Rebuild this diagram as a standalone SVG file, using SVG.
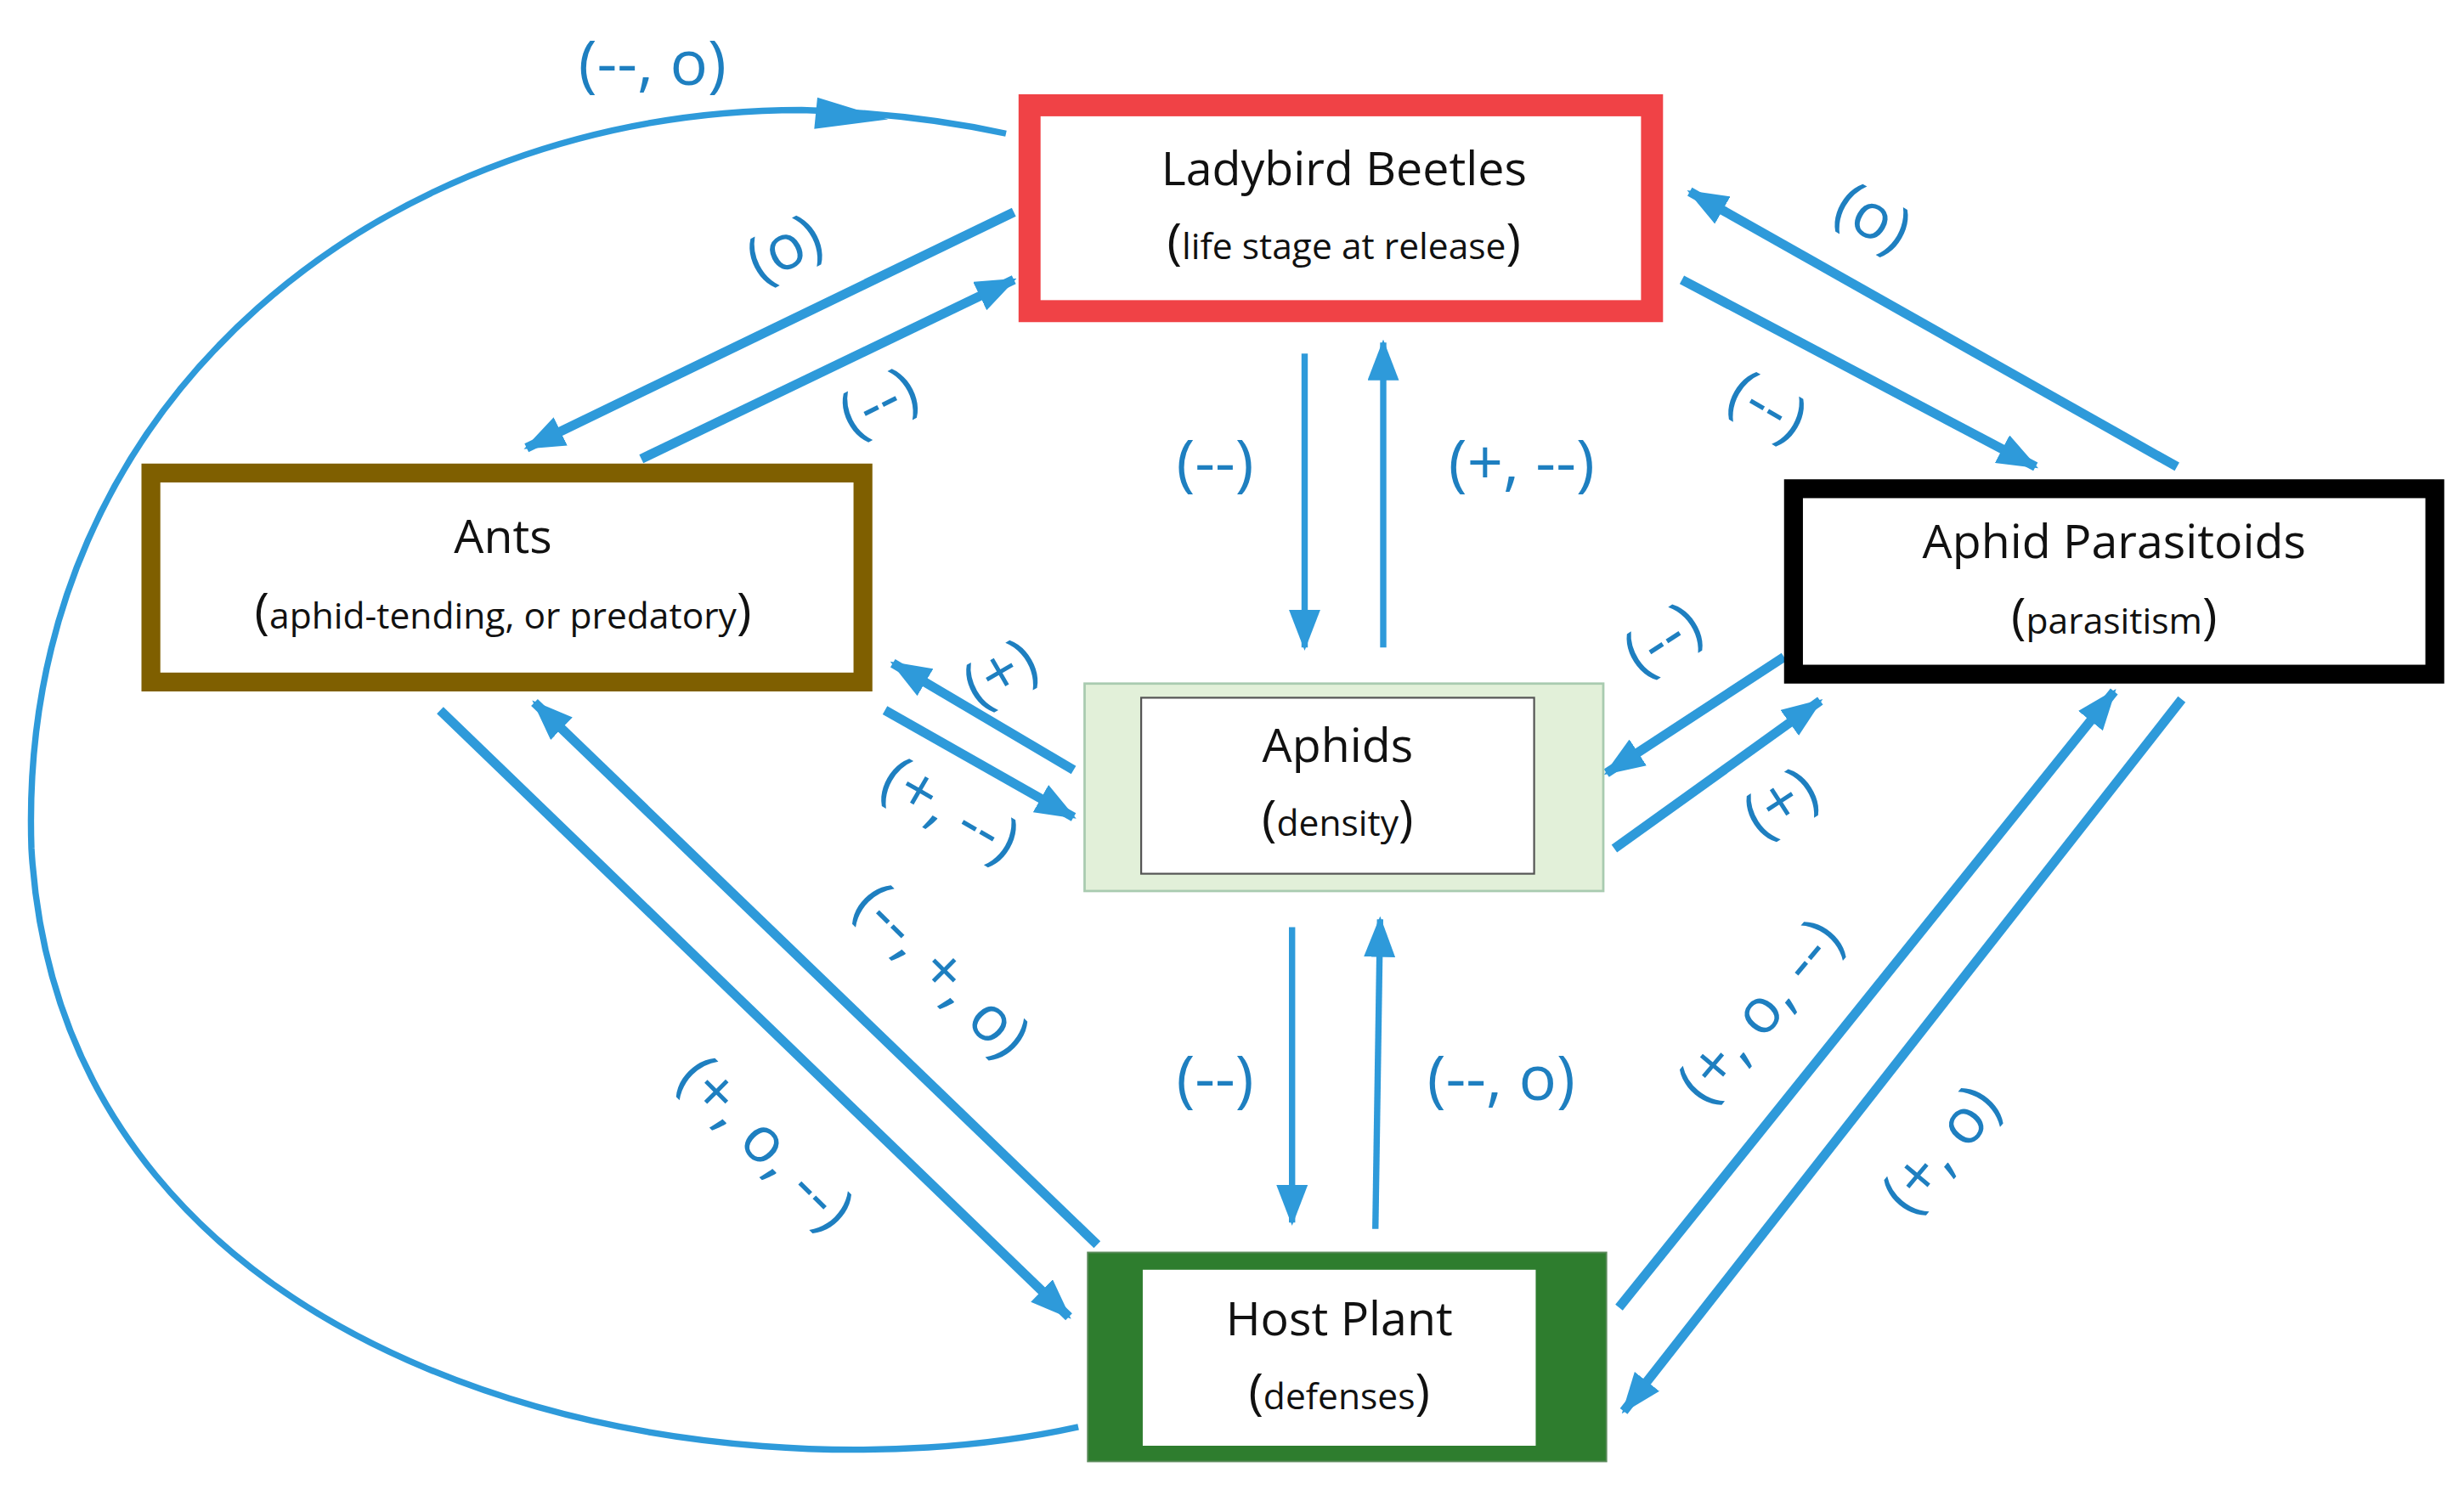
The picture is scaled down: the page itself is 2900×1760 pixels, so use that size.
<svg xmlns="http://www.w3.org/2000/svg" width="2900" height="1760" viewBox="0 0 2900 1760">
<style>
.c{fill:none;stroke:#2E9ADA;stroke-width:6}
.l{font-family:"Open Sans","Noto Sans",sans-serif;font-size:40px;fill:#1E7FC0;text-anchor:middle}
.t{font-family:"Open Sans","Noto Sans",sans-serif;font-size:30px;fill:#111;text-anchor:middle}
.s{font-family:"Open Sans","Noto Sans",sans-serif;font-size:23px;fill:#111;text-anchor:middle}
.p{font-size:32px}
</style>
<defs>
<marker id="a" markerUnits="userSpaceOnUse" markerWidth="26" markerHeight="20" refX="24" refY="10" orient="auto"><path d="M0,0 L26,10 L0,20 Z" fill="#2E9ADA"/></marker>
</defs>
<rect width="2900" height="1760" fill="#fff"/>
<g transform="scale(1.85)">
<g id="connectors">
<path class="c" style="stroke-width:4" d="M686,908 C450,960 40,880 20,540 C10,250 250,70 510,70 Q580,72 640,85"/>
<path d="M520,62 L565,76 L518,82 Z" fill="#2E9ADA"/>
<line class="c" x1="645" y1="135" x2="335" y2="285" marker-end="url(#a)"/>
<line class="c" x1="408" y1="292" x2="645" y2="178" marker-end="url(#a)"/>
<line class="c" style="stroke-width:4" x1="830" y1="225" x2="830" y2="412" marker-end="url(#a)"/>
<line class="c" style="stroke-width:4" x1="880" y1="412" x2="880" y2="218" marker-end="url(#a)"/>
<line class="c" x1="1070" y1="178" x2="1295" y2="297" marker-end="url(#a)"/>
<line class="c" x1="1385" y1="297" x2="1075" y2="122" marker-end="url(#a)"/>
<line class="c" x1="683" y1="490" x2="568" y2="422" marker-end="url(#a)"/>
<line class="c" x1="563" y1="452" x2="683" y2="520" marker-end="url(#a)"/>
<line class="c" x1="1135" y1="418" x2="1022" y2="492" marker-end="url(#a)"/>
<line class="c" x1="1027" y1="540" x2="1158" y2="446" marker-end="url(#a)"/>
<line class="c" style="stroke-width:4" x1="822" y1="590" x2="822" y2="778" marker-end="url(#a)"/>
<line class="c" style="stroke-width:4" x1="875" y1="782" x2="878" y2="585" marker-end="url(#a)"/>
<line class="c" x1="280" y1="452" x2="680" y2="838" marker-end="url(#a)"/>
<line class="c" x1="698" y1="792" x2="340" y2="447" marker-end="url(#a)"/>
<line class="c" x1="1030" y1="832" x2="1345" y2="440" marker-end="url(#a)"/>
<line class="c" x1="1388" y1="445" x2="1033" y2="898" marker-end="url(#a)"/>
<text class="l" x="415" y="54">(--, o)</text>
<text class="l" transform="translate(505,170) rotate(-27)">(o)</text>
<text class="l" transform="translate(565,268) rotate(-27)">(--)</text>
<text class="l" x="773" y="308">(--)</text>
<text class="l" x="968" y="308">(+, --)</text>
<text class="l" transform="translate(1118,270) rotate(30)">(--)</text>
<text class="l" transform="translate(1185,150) rotate(30)">(o)</text>
<text class="l" transform="translate(643,440) rotate(-30)">(+)</text>
<text class="l" transform="translate(598,527) rotate(30)">(+, --)</text>
<text class="l" transform="translate(1065,418) rotate(-33)">(--)</text>
<text class="l" transform="translate(1140,522) rotate(-33)">(+)</text>
<text class="l" x="773" y="700">(--)</text>
<text class="l" x="955" y="700">(--, o)</text>
<text class="l" transform="translate(478,737) rotate(45)">(+, o, --)</text>
<text class="l" transform="translate(590,627) rotate(45)">(--, +, o)</text>
<text class="l" transform="translate(1130,652) rotate(-50)">(+, o, --)</text>
<text class="l" transform="translate(1245,740) rotate(-50)">(+, o)</text>
</g>
<g id="ladybird">
<rect x="655" y="67" width="396" height="131" fill="#fff" stroke="#F04246" stroke-width="14"/>
<text class="t" x="855" y="118">Ladybird Beetles</text>
<text class="s" x="855" y="165"><tspan class="p">(</tspan>life stage at release<tspan class="p">)</tspan></text>
</g>
<g id="ants">
<rect x="96" y="301" width="453" height="133" fill="#fff" stroke="#7F5F00" stroke-width="12"/>
<text class="t" x="320" y="352">Ants</text>
<text class="s" x="320" y="400"><tspan class="p">(</tspan>aphid-tending, or predatory<tspan class="p">)</tspan></text>
</g>
<g id="parasitoids">
<rect x="1141" y="311" width="408" height="118" fill="#fff" stroke="#000" stroke-width="12"/>
<text class="t" x="1345" y="355">Aphid Parasitoids</text>
<text class="s" x="1345" y="403"><tspan class="p">(</tspan>parasitism<tspan class="p">)</tspan></text>
</g>
<g id="aphids">
<rect x="690" y="435" width="330" height="132" fill="#E2F0D9" stroke="#A9CBB0" stroke-width="1.5"/>
<rect x="726" y="444" width="250" height="112" fill="#fff" stroke="#555" stroke-width="1.2"/>
<text class="t" x="851" y="485">Aphids</text>
<text class="s" x="851" y="532"><tspan class="p">(</tspan>density<tspan class="p">)</tspan></text>
</g>
<g id="hostplant">
<rect x="692" y="797" width="330" height="133" fill="#2E7D2E" stroke="#5a8a5a" stroke-width="1"/>
<rect x="727" y="808" width="250" height="112" fill="#fff"/>
<text class="t" x="852" y="850">Host Plant</text>
<text class="s" x="852" y="897"><tspan class="p">(</tspan>defenses<tspan class="p">)</tspan></text>
</g>
</g>
</svg>
